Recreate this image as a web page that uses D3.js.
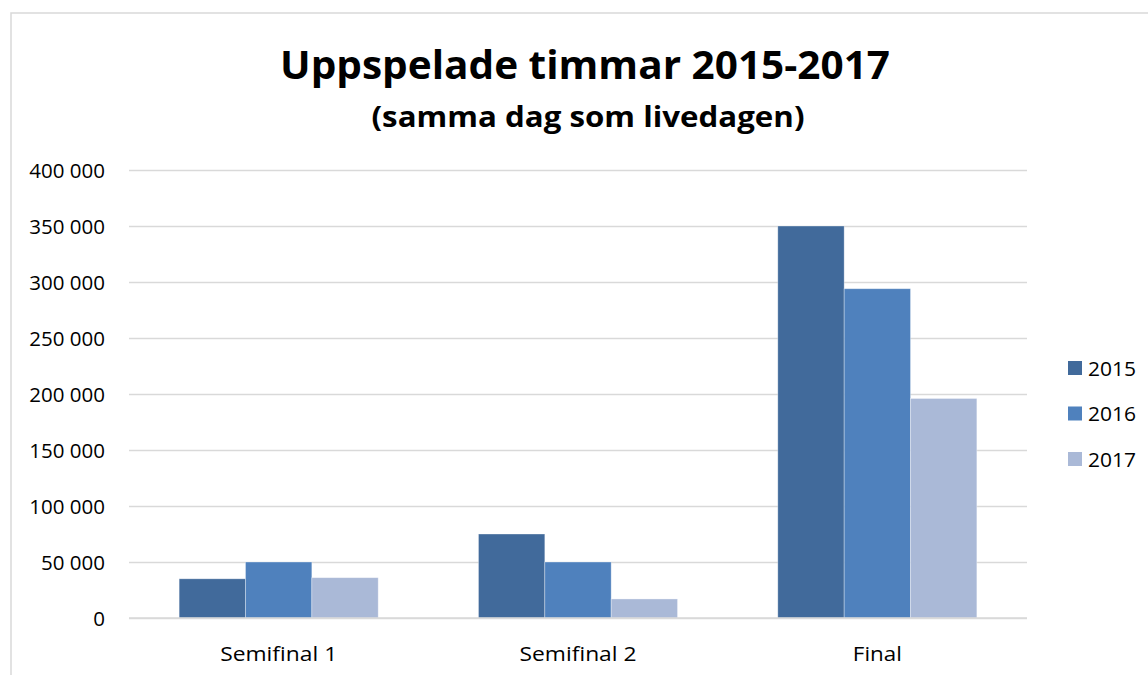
<!DOCTYPE html>
<html>
<head>
<meta charset="utf-8">
<script src="https://cdn.jsdelivr.net/npm/d3@7"></script>
<style>
  html, body { margin: 0; padding: 0; background: #fff; }
  svg { display: block; }
  text { font-family: "Open Sans", "Liberation Sans", sans-serif; fill: #000; }
</style>
</head>
<body>
<svg id="chart" width="1148" height="675"></svg>
<script>
const titleText = "Uppspelade timmar 2015-2017";
const subtitleText = "(samma dag som livedagen)";
const categories = ["Semifinal 1", "Semifinal 2", "Final"];
const seriesNames = ["2015", "2016", "2017"];
const values2015 = [35000, 75000, 350000];
const values2016 = [50000, 50000, 294000];
const values2017 = [36000, 17000, 196000];
const yTicks = [0, 50000, 100000, 150000, 200000, 250000, 300000, 350000, 400000];
const colors = ["#416A9B", "#4F81BD", "#AAB9D7"];

(function () {
const seriesValues = [values2015, values2016, values2017];
const data = categories.map((c, i) => ({
  category: c,
  values: seriesNames.map((s, j) => ({ series: s, value: seriesValues[j][i] }))
}));

const svg = d3.select("#chart");

// chart outline
svg.append("rect")
  .attr("x", 11).attr("y", 13)
  .attr("width", 1200).attr("height", 700)
  .attr("fill", "#fff")
  .attr("stroke", "#d9d9d9").attr("stroke-width", 1.5);

const pLeft = 129, pRight = 1027, pTop = 170, pBottom = 618;

const y = d3.scaleLinear().domain([0, 400000]).range([pBottom, pTop]);
const x0 = d3.scaleBand().domain(categories).range([pLeft, pRight])
  .paddingInner(0.335).paddingOuter(0.1675);
const x1 = d3.scaleBand().domain(seriesNames).range([0, x0.bandwidth()]);
const color = d3.scaleOrdinal().domain(seriesNames).range(colors);

// gridlines
const grid = svg.append("g")
  .attr("transform", `translate(${pLeft},0)`)
  .call(d3.axisLeft(y).tickValues(yTicks).tickSize(-(pRight - pLeft)).tickFormat(""));
grid.select(".domain").remove();
grid.selectAll("line").attr("stroke", "#d9d9d9").attr("stroke-width", 1.5);

// y labels
const fmt = v => d3.format(",")(v).replace(/,/g, " ");
const yAxis = svg.append("g")
  .attr("transform", `translate(105,0)`)
  .call(d3.axisLeft(y).tickValues(yTicks).tickSize(0).tickPadding(0).tickFormat(fmt));
yAxis.select(".domain").remove();
yAxis.selectAll("text")
  .attr("font-size", 20.5)
  .attr("font-family", "Open Sans")
  .attr("fill", "#000")
  .attr("dy", "0.36em");

// bars
const groups = svg.append("g").selectAll("g")
  .data(data).join("g")
  .attr("transform", d => `translate(${x0(d.category)},0)`);
groups.selectAll("rect")
  .data(d => d.values).join("rect")
  .attr("x", d => x1(d.series))
  .attr("y", d => y(d.value))
  .attr("width", x1.bandwidth())
  .attr("height", d => y(0) - y(d.value))
  .attr("fill", d => color(d.series))
  .attr("stroke", "rgba(255,255,255,0.45)")
  .attr("stroke-width", 0.75);

// x axis labels
const xAxis = svg.append("g")
  .attr("transform", `translate(0,${pBottom})`)
  .call(d3.axisBottom(x0).tickSize(0).tickPadding(0));
xAxis.select(".domain").remove();
xAxis.selectAll("text")
  .attr("font-size", 20.5)
  .attr("font-family", "Open Sans")
  .attr("fill", "#000")
  .attr("dy", null)
  .attr("y", 43)
  .attr("textLength", 117)
  .attr("lengthAdjust", "spacingAndGlyphs");
xAxis.selectAll("text").filter(d => d === "Final").attr("textLength", 49);

// baseline overlay
svg.append("line")
  .attr("x1", pLeft).attr("x2", pRight)
  .attr("y1", y(0)).attr("y2", y(0))
  .attr("stroke", "#d9d9d9").attr("stroke-width", 1.5);

// title
svg.append("text")
  .attr("x", 585).attr("y", 79)
  .attr("text-anchor", "middle")
  .attr("font-size", 40).attr("font-weight", "bold")
  .attr("textLength", 610).attr("lengthAdjust", "spacingAndGlyphs")
  .text(titleText);
svg.append("text")
  .attr("x", 588).attr("y", 127)
  .attr("text-anchor", "middle")
  .attr("font-size", 29).attr("font-weight", "bold")
  .attr("textLength", 433).attr("lengthAdjust", "spacingAndGlyphs")
  .text(subtitleText);

// legend
const legend = svg.append("g").selectAll("g")
  .data(seriesNames).join("g")
  .attr("transform", (d, i) => `translate(1068,${361 + i * 45.5})`);
legend.append("rect")
  .attr("width", 14).attr("height", 14)
  .attr("fill", d => color(d));
legend.append("text")
  .attr("x", 20).attr("y", 14.5)
  .attr("font-size", 20.5)
  .attr("textLength", 48).attr("lengthAdjust", "spacingAndGlyphs")
  .text(d => d);
})();
</script>
</body>
</html>
